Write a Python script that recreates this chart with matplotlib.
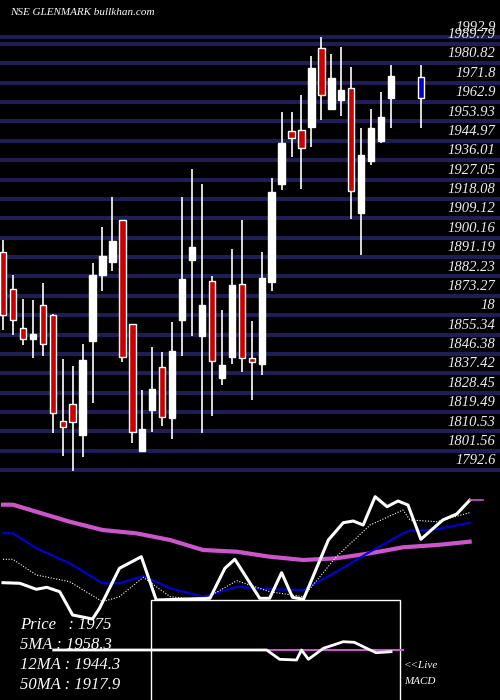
import matplotlib
matplotlib.use("Agg")
import matplotlib.pyplot as plt
from matplotlib.patches import Rectangle

# ---- data ----
slots = list(range(40)) + [42]
opens = [1893.5,1876.4,1858.3,1853.1,1868.8,1864.2,1815.2,1823.2,1809.0,1852.5,1883.0,1888.9,1908.3,1860.1,1801.6,1820.4,1840.3,1816.8,1862.2,1889.9,1854.6,1879.9,1835.3,1845.1,1878.7,1844.3,1841.8,1879.8,1924.8,1949.5,1949.8,1951.5,1987.8,1959.8,1963.8,1969.3,1911.7,1935.6,1945.0,1964.9,1964.9]
closes = [1864.3,1862.0,1853.2,1855.6,1850.8,1818.9,1812.7,1815.0,1843.5,1882.9,1891.6,1898.6,1845.1,1810.3,1811.6,1830.1,1817.3,1847.7,1881.0,1895.8,1868.8,1842.9,1841.2,1878.2,1844.3,1842.5,1881.3,1921.1,1943.8,1946.3,1941.5,1978.5,1966.0,1974.0,1968.5,1921.9,1938.4,1950.9,1956.0,1974.9,1974.6]
highs = [1899.0,1882.9,1871.8,1871.3,1879.3,1865.0,1844.0,1840.8,1850.9,1888.3,1905.2,1919.1,1908.3,1860.1,1829.6,1849.7,1847.2,1861.1,1919.1,1931.9,1925.0,1882.4,1866.7,1894.9,1908.3,1861.6,1893.4,1927.6,1958.3,1958.3,1966.2,1984.2,1993.0,1985.1,1988.4,1979.0,1950.7,1959.7,1967.5,1980.0,1980.0]
lows = [1857.4,1855.1,1850.5,1844.6,1845.5,1809.7,1799.2,1792.3,1798.8,1823.8,1875.5,1884.8,1842.8,1805.0,1801.6,1810.3,1813.0,1807.1,1845.4,1854.6,1809.9,1817.8,1832.0,1841.8,1838.1,1825.0,1836.7,1875.5,1922.2,1937.6,1922.7,1942.2,1954.6,1959.8,1956.4,1908.8,1892.1,1933.9,1944.1,1951.0,1951.0]
levels = [1992.9,1989.79,1980.82,1971.8,1962.9,1953.93,1944.97,1936.01,1927.05,1918.08,1909.12,1900.16,1891.19,1882.23,1873.27,1864.31,1855.34,1846.38,1837.42,1828.45,1819.49,1810.53,1801.56,1792.6]
level_labels = ["1992.9","1989.79","1980.82","1971.8","1962.9","1953.93","1944.97","1936.01","1927.05","1918.08","1909.12","1900.16","1891.19","1882.23","1873.27","18","1855.34","1846.38","1837.42","1828.45","1819.49","1810.53","1801.56","1792.6"]

# lower panel lines (x in candle slots, y in panel units)
pink_x = [0,1,3.35,6.7,10,13.4,16.8,20.1,23.5,26.8,30.2,33.5,36.9,40.2,43.6,46.9]
pink_y = [504.7,504.7,511.7,521.7,530,533.3,540,550,551.7,556.7,560,558.3,553.3,547.3,545,541.7]
blue_x = [0,1,3.35,6.7,10,11.7,14.1,16.8,20.1,23.5,26.8,30.2,33.5,36.9,40.2,40.9,43.6,46.9]
blue_y = [533.3,533.3,548.3,563.3,583.3,583.3,576,588.3,596.7,586.7,589.3,590,571.7,551.7,533.3,530.7,529.3,522.7]
dot_x = blue_x
dot_y = [559.3,559.3,575,581.7,601.7,596.7,577.3,596.7,600,580.7,591.7,596.7,556.7,525,510,520,521.7,512.7]
wht_x = [0,1.7,3.35,4.4,5.7,7.0,9.0,9.7,11.7,13.9,15.4,20.8,22.3,23.3,25.8,26.8,28.0,29.1,30.2,32.7,34.2,35.2,36.2,37.4,38.6,39.7,40.7,42.0,44.2,45.6,46.9]
wht_y = [582.7,583.3,589.3,587.3,591.7,615,619,608.3,568.3,556.7,600,598.3,568.3,559.3,598.3,598.3,572.7,597.3,599.3,540,522.7,521,525,496.7,506.7,501,505,539.3,520,514,500.3]
macd_x = [5.1,8.7,8.7,26.0,26.5,27.8,29.5,30.0,30.7,32.2,34.2,35.3,36.9,37.5,39.0]
macd_y = [650,650,650,650,650,659.3,660,650,659.3,648.3,641.7,642.3,650,652.7,651.7]
signal_x = [26.0, 40.2]
signal_y = [650, 650]

fig = plt.figure(figsize=(5, 7), dpi=100, facecolor="black")
serif = ["Liberation Serif", "DejaVu Serif"]

ax = fig.add_axes([0, 210/700, 1, 490/700], facecolor="black")
ax.set_xlim(-0.3, 49.95)
ax.set_ylim(1783.4, 2010.1)
ax.axis("off")
for lv, lb in zip(levels, level_labels):
    ax.axhline(lv, color="#1e1e55", lw=3, zorder=1)
    ax.text(49.5, lv + 1.3, lb, color="#eeeeee", fontsize=10.5, family=serif,
            style="italic", ha="right", va="bottom", zorder=5)
for i, (s, o, c, h, l) in enumerate(zip(slots, opens, closes, highs, lows)):
    last = i == len(slots) - 1
    col = "#0000cc" if last else ("white" if c >= o else "#cc0000")
    ax.vlines(s, l, h, color="white", lw=1.2, zorder=2)
    ax.add_patch(Rectangle((s - 0.32, min(o, c)), 0.64, max(abs(c - o), 0.8),
                           facecolor=col, edgecolor="white", lw=1, zorder=3))
ax.text(0.02, 0.975, "NSE GLENMARK bullkhan.com", transform=ax.transAxes, color="white",
        fontsize=8, family=serif, style="italic", va="center")

ax2 = fig.add_axes([0, 0, 1, 210/700], facecolor="black")
ax2.set_xlim(-0.3, 49.95)
ax2.set_ylim(700, 490)
ax2.axis("off")
ax2.plot(pink_x, pink_y, color="#cc55cc", lw=3)
ax2.plot(blue_x, blue_y, color="#0000dd", lw=1.5)
ax2.plot(dot_x, dot_y, color="white", lw=0.8, ls=(0, (1, 1.5)))
ax2.plot(wht_x, wht_y, color="white", lw=2.2)
ax2.plot([46.9, 48.2], [500.3, 500.3], color="#cc55cc", lw=1.2)
ax2.add_patch(Rectangle((14.85, 600), 25.1, 102, facecolor="black", edgecolor="white", lw=1, zorder=4))
ax2.plot(signal_x, signal_y, color="#cc55cc", lw=1.5, zorder=5)
ax2.plot(macd_x, macd_y, color="white", lw=2, zorder=6)
legend = [("Price   : 1975", 625), ("5MA : 1958.3", 645), ("12MA : 1944.3", 665), ("50MA : 1917.9", 685)]
for t, yy in legend:
    ax2.text(1.7, yy, t, color="white", fontsize=12, family=serif, style="italic", va="center", zorder=7)
ax2.text(40.3, 666, "<<Live", color="white", fontsize=8, family=serif, style="italic", va="center")
ax2.text(40.3, 681, "MACD", color="white", fontsize=8, family=serif, style="italic", va="center")

fig.savefig("out.png", dpi=100, facecolor="black")
